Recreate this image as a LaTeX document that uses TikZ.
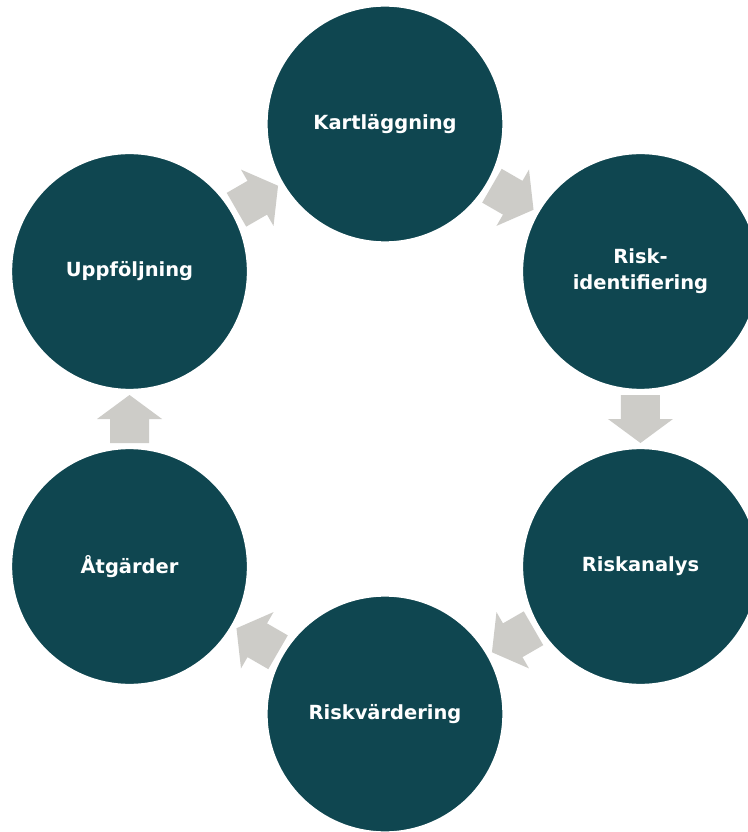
\documentclass[tikz,border=0pt]{standalone}
\usepackage{fontspec}
\setmainfont{DejaVu Sans}
\usetikzlibrary{calc,backgrounds}
\definecolor{petrol}{HTML}{0F4650}
\definecolor{stone}{HTML}{CDCCC8}
\tikzset{
  stepcircle/.style={circle, fill=petrol, draw=white, line width=2pt,
    minimum size=178pt, inner sep=0pt, text=white, align=center,
    font=\bfseries\fontsize{14.6}{19.5}\selectfont}
}
\begin{document}
\begin{tikzpicture}[x=0.75pt,y=0.75pt]
  \useasboundingbox (-385,-413) rectangle (363,419);

  \node[stepcircle] (kart) at (90:295) {Kartläggning};
  \node[stepcircle] (riskid) at (30:295) {Risk-\\identifiering};
  \node[stepcircle] (riskan) at (-30:295) {Riskanalys};
  \node[stepcircle] (riskv) at (-90:295) {Riskvärdering};
  \node[stepcircle] (atg) at (-150:295) {Åtgärder};
  \node[stepcircle] (upp) at (150:295) {Uppföljning};

  \begin{scope}[on background layer]
   \fill[white] (-385,-413) rectangle (363,419);
   \foreach \from/\to/\angle in {kart/riskid/-30, riskid/riskan/-90,
       riskan/riskv/-150, riskv/atg/150, atg/upp/90, upp/kart/30} {
    \fill[stone, shift={($(\from)!0.5!(\to)$)}, rotate=\angle]
      (-24,-19.5) -- (0,-19.5) -- (0,-32.5) -- (24,0) -- (0,32.5)
      -- (0,19.5) -- (-24,19.5) -- cycle;
   }
  \end{scope}
\end{tikzpicture}
\end{document}
